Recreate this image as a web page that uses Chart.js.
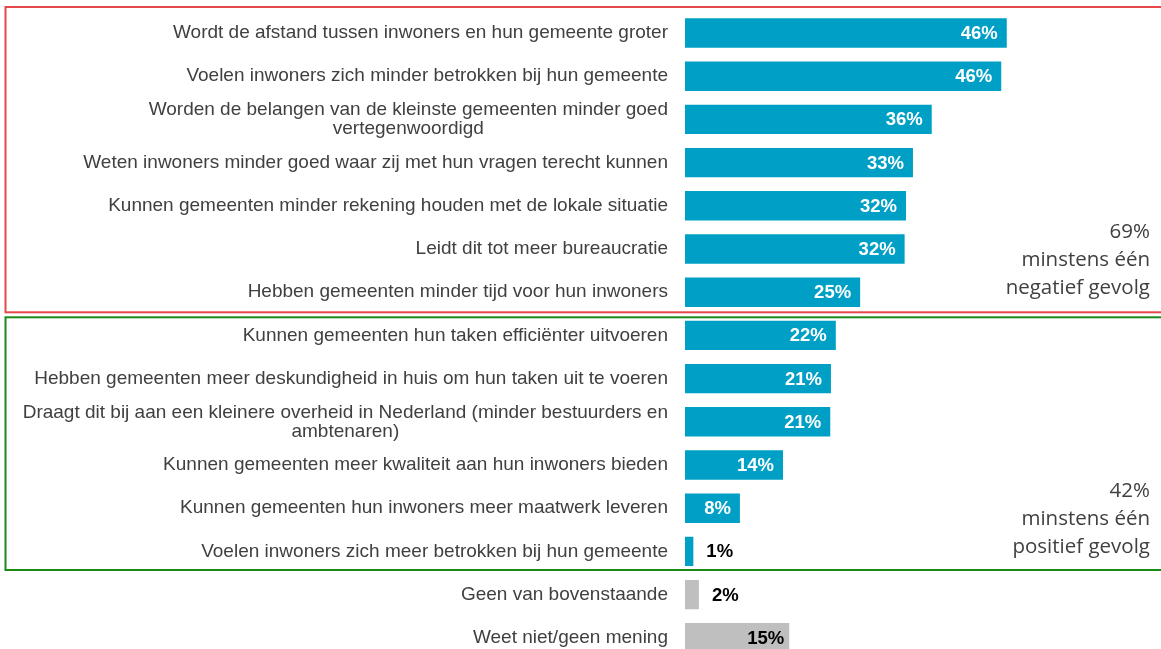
<!DOCTYPE html>
<html>
<head>
<meta charset="utf-8">
<script src="https://cdn.jsdelivr.net/npm/chart.js@4"></script>
<style>
html,body{margin:0;padding:0;background:#fff;overflow:hidden;}
#wrap{width:1161px;height:662px;}
</style>
</head>
<body>
<div id="wrap"><canvas id="chart" width="1161" height="662"></canvas></div>
<script>
const categories = [
  "Wordt de afstand tussen inwoners en hun gemeente groter",
  "Voelen inwoners zich minder betrokken bij hun gemeente",
  ["Worden de belangen van de kleinste gemeenten minder goed", "vertegenwoordigd"],
  "Weten inwoners minder goed waar zij met hun vragen terecht kunnen",
  "Kunnen gemeenten minder rekening houden met de lokale situatie",
  "Leidt dit tot meer bureaucratie",
  "Hebben gemeenten minder tijd voor hun inwoners",
  "Kunnen gemeenten hun taken efficiënter uitvoeren",
  "Hebben gemeenten meer deskundigheid in huis om hun taken uit te voeren",
  ["Draagt dit bij aan een kleinere overheid in Nederland (minder bestuurders en", "ambtenaren)"],
  "Kunnen gemeenten meer kwaliteit aan hun inwoners bieden",
  "Kunnen gemeenten hun inwoners meer maatwerk leveren",
  "Voelen inwoners zich meer betrokken bij hun gemeente",
  "Geen van bovenstaande",
  "Weet niet/geen mening"
];
const values = [46.3, 45.5, 35.5, 32.8, 31.8, 31.6, 25.2, 21.7, 21.0, 20.9, 14.1, 7.9, 1.2, 2.0, 15.0];
const groups = ["neg","neg","neg","neg","neg","neg","neg","pos","pos","pos","pos","pos","pos","other","other"];

const negNote = ["69%", "minstens één", "negatief gevolg"];
const posNote = ["42%", "minstens één", "positief gevolg"];

const BLUE = "#00a0c6";
const GREY = "#bfbfbf";
const TEXT = "#404040";

const decor = {
  id: "decor",
  afterDraw(chart) {
    const ctx = chart.ctx;
    const y = chart.scales.y;
    const area = chart.chartArea;
    const step = y.getPixelForValue(1) - y.getPixelForValue(0);

    // category labels, lines centred within the block, block right aligned
    ctx.save();
    ctx.font = "19px 'Liberation Sans', Arial, sans-serif";
    ctx.fillStyle = TEXT;
    ctx.textBaseline = "middle";
    ctx.textAlign = "center";
    const lh = 19;
    categories.forEach((c, i) => {
      const lines = Array.isArray(c) ? c : [c];
      const w = Math.max(...lines.map(l => ctx.measureText(l).width));
      const cx = area.left - 17 - w / 2;
      const cy = y.getPixelForValue(i);
      lines.forEach((l, k) => {
        ctx.fillText(l, cx, cy + (k - (lines.length - 1) / 2) * lh);
      });
    });
    ctx.restore();

    // value labels
    ctx.save();
    ctx.font = "bold 18.5px 'Liberation Sans', Arial, sans-serif";
    ctx.textBaseline = "middle";
    chart.getDatasetMeta(0).data.forEach((bar, i) => {
      const txt = Math.round(values[i]) + "%";
      if (values[i] < 5) {
        ctx.fillStyle = "#000";
        ctx.textAlign = "left";
        ctx.fillText(txt, bar.x + 13, bar.y + 1);
      } else {
        ctx.fillStyle = groups[i] === "other" ? "#000" : "#fff";
        ctx.textAlign = "right";
        ctx.fillText(txt, bar.x - (groups[i] === "other" ? 5 : 9), bar.y + 1);
      }
    });
    ctx.restore();

    // group boxes
    const lastNeg = groups.lastIndexOf("neg");
    const lastPos = groups.lastIndexOf("pos");
    const negBottom = y.getPixelForValue(lastNeg) + step / 2;
    const posBottom = y.getPixelForValue(lastPos) + step / 2;
    ctx.save();
    ctx.lineWidth = 2;
    ctx.strokeStyle = "#e5484b";
    ctx.strokeRect(5.5, y.getPixelForValue(0) - 26, chart.width + 10, negBottom - 1.5 - (y.getPixelForValue(0) - 26));
    ctx.strokeStyle = "#188a18";
    ctx.strokeRect(5.5, negBottom + 3.5, chart.width + 10, posBottom - 3 - (negBottom + 3.5));
    ctx.restore();

    // group notes
    ctx.save();
    ctx.font = "20.5px 'Open Sans', 'Noto Sans', sans-serif";
    ctx.fillStyle = TEXT;
    ctx.textAlign = "right";
    ctx.textBaseline = "alphabetic";
    [[negNote, lastNeg], [posNote, lastPos]].forEach(([lines, idx]) => {
      const base = y.getPixelForValue(idx) + 2;
      lines.forEach((l, k) => {
        ctx.fillText(l, 1150, base - (lines.length - 1 - k) * 28);
      });
    });
    ctx.restore();
  }
};

new Chart(document.getElementById("chart"), {
  type: "bar",
  data: {
    labels: categories,
    datasets: [{
      data: values,
      backgroundColor: groups.map(g => g === "other" ? GREY : BLUE),
      borderWidth: 0,
      categoryPercentage: 1,
      barPercentage: 0.68
    }]
  },
  options: {
    indexAxis: "y",
    responsive: false,
    animation: false,
    devicePixelRatio: 1,
    layout: { padding: { left: 685, right: 59, top: 11.4, bottom: 2.6 } },
    plugins: { legend: { display: false }, tooltip: { enabled: false } },
    scales: {
      x: { display: false, min: 0, max: 60 },
      y: { display: false }
    }
  },
  plugins: [decor]
});
</script>
</body>
</html>
